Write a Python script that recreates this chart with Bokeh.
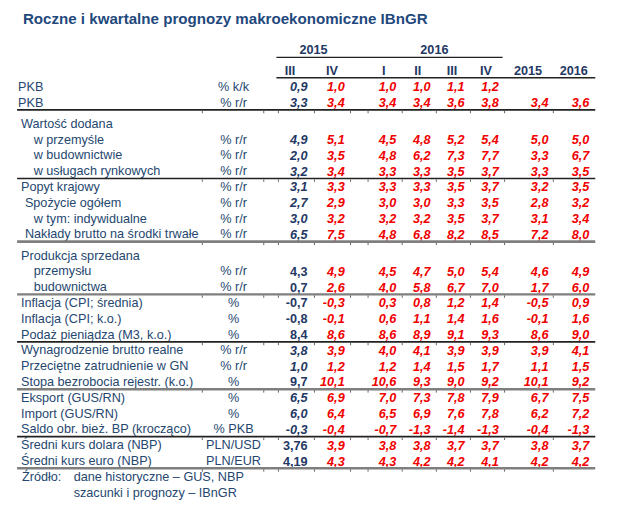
from bokeh.plotting import figure
from bokeh.models import Range1d, ColumnDataSource
from bokeh.core.properties import value
from bokeh.embed import file_html
from bokeh.resources import INLINE

# ---------------- data ----------------
title = "Roczne i kwartalne prognozy makroekonomiczne IBnGR"
year_headers = ["2015", "2016"]
col_headers = ["III", "IV", "I", "II", "III", "IV", "2015", "2016"]

labels = [
    "PKB", "PKB", "Wartość dodana", "w przemyśle", "w budownictwie",
    "w usługach rynkowych", "Popyt krajowy", "Spożycie ogółem",
    "w tym: indywidualne", "Nakłady brutto na środki trwałe",
    "Produkcja sprzedana", "przemysłu", "budownictwa",
    "Inflacja (CPI; średnia)", "Inflacja (CPI; k.o.)", "Podaż pieniądza (M3, k.o.)",
    "Wynagrodzenie brutto realne", "Przeciętne zatrudnienie w GN",
    "Stopa bezrobocia rejestr. (k.o.)", "Eksport (GUS/RN)", "Import (GUS/RN)",
    "Saldo obr. bież. BP (krocząco)", "Średni kurs dolara (NBP)", "Średni kurs euro (NBP)",
]
units = [
    "% k/k", "% r/r", "", "% r/r", "% r/r", "% r/r", "% r/r", "% r/r", "% r/r", "% r/r",
    "", "% r/r", "% r/r", "%", "%", "%", "% r/r", "% r/r", "%", "%", "%", "% PKB",
    "PLN/USD", "PLN/EUR",
]
N = None
q3_2015 = [0.9, 3.3, N, 4.9, 2.0, 3.2, 3.1, 2.7, 3.0, 6.5, N, 4.3, 0.7, -0.7, -0.8, 8.4, 3.8, 1.0, 9.7, 6.5, 6.0, -0.3, 3.76, 4.19]
q4_2015 = [1.0, 3.4, N, 5.1, 3.5, 3.4, 3.3, 2.9, 3.2, 7.5, N, 4.9, 2.6, -0.3, -0.1, 8.6, 3.9, 1.2, 10.1, 6.9, 6.4, -0.4, 3.9, 4.3]
q1_2016 = [1.0, 3.4, N, 4.5, 4.8, 3.3, 3.3, 3.0, 3.2, 4.8, N, 4.5, 4.0, 0.3, 0.6, 8.6, 4.0, 1.2, 10.6, 7.0, 6.5, -0.7, 3.8, 4.3]
q2_2016 = [1.0, 3.4, N, 4.8, 6.2, 3.3, 3.3, 3.0, 3.2, 6.8, N, 4.7, 5.8, 0.8, 1.1, 8.9, 4.1, 1.4, 9.3, 7.3, 6.9, -1.3, 3.8, 4.2]
q3_2016 = [1.1, 3.6, N, 5.2, 7.3, 3.5, 3.5, 3.3, 3.5, 8.2, N, 5.0, 6.7, 1.2, 1.4, 9.1, 3.9, 1.5, 9.0, 7.8, 7.6, -1.4, 3.7, 4.2]
q4_2016 = [1.2, 3.8, N, 5.4, 7.7, 3.7, 3.7, 3.5, 3.7, 8.5, N, 5.4, 7.0, 1.4, 1.6, 9.3, 3.9, 1.7, 9.2, 7.9, 7.8, -1.3, 3.7, 4.1]
year_2015 = [N, 3.4, N, 5.0, 3.3, 3.3, 3.2, 2.8, 3.1, 7.2, N, 4.6, 1.7, -0.5, -0.1, 8.6, 3.9, 1.1, 10.1, 6.7, 6.2, -0.4, 3.8, 4.2]
year_2016 = [N, 3.6, N, 5.0, 6.7, 3.5, 3.5, 3.2, 3.4, 8.0, N, 4.9, 6.0, 0.9, 1.6, 9.0, 4.1, 1.5, 9.2, 7.5, 7.2, -1.3, 3.7, 4.2]
columns = [q3_2015, q4_2015, q1_2016, q2_2016, q3_2016, q4_2016, year_2015, year_2016]

source_lines = [("Źródło:", "dane historyczne – GUS, NBP"), ("", "szacunki i prognozy – IBnGR")]

# ---------------- layout / style ----------------
indent = [-1, -1, 0, 2, 2, 2, 0, 1, 2, 1, 0, 2, 2, 0, 0, 0, 0, 0, 0, 0, 0, 0, 0, 0]
indent_x = {-1: 18, 0: 21, 1: 25, 2: 34}
q3_italic = [1, 1, 0, 1, 1, 1, 1, 1, 1, 1, 0, 0, 0, 0, 0, 0, 1, 1, 0, 1, 1, 1, 0, 0]
col_right = [315, 353, 406, 441, 476, 511, 562, 604]
col_center = [297, 340, 393, 428, 463, 498, 541, 588]
year_center = [321, 445]
unit_x = 239
y0, pitch, gap = 89, 16.3, 5.5
gap_after = [1, 9]
sep_after = [(1, "#222222", 1.6), (5, "#222222", 1.6), (9, "#7f7f7f", 2.6), (12, "#7f7f7f", 2.2),
             (15, "#222222", 1.6), (18, "#7f7f7f", 2.6), (21, "#222222", 1.6), (23, "#7f7f7f", 2.6)]
tick_x = [207, 270, 285, 322, 359, 377, 412, 447, 482, 517, 567]

W, H = 624, 512          # figure size (fits the 640x528 window with its 8px margin)
REF_W, REF_H = 640, 528  # coordinate space of the reference picture
S = W / REF_W            # font scaling so the whole picture fits

NAVY = "#25476F"
DARK = "#1F3864"
RED = "#F00000"
FONT = value("Liberation Sans")


def row_y(i):
    return y0 + i * pitch + gap * sum(1 for g in gap_after if i > g)


def fmt(v):
    s = f"{v:.2f}" if abs(round(v, 2) - round(v, 1)) > 1e-9 else f"{v:.1f}"
    return s.replace(".", ",")


p = figure(width=W, height=H, output_backend="svg", toolbar_location=None,
           x_range=Range1d(0, REF_W), y_range=Range1d(REF_H, 0), min_border=0)
p.axis.visible = False
p.grid.visible = False
p.outline_line_color = None
p.background_fill_color = "white"
p.border_fill_color = "white"


def txt(xs, ys, texts, color, size=13, style="normal", align="left"):
    if not texts:
        return
    src = ColumnDataSource(dict(x=xs, y=ys, t=texts))
    p.text("x", "y", "t", source=src, text_font=FONT, text_font_size=value(f"{size * S:.2f}px"),
           text_font_style=value(style), text_color=color, text_align=align,
           text_baseline="middle")


# title
txt([23], [19], [title], "#1F497D", size=15.5, style="bold")

# header rows
hy = row_y(-1)
txt(year_center, [hy - 22] * 2, year_headers, DARK, style="bold", align="center")
txt(col_center, [hy] * len(col_headers), col_headers, DARK, style="bold", align="center")
p.segment(x0=[283], y0=[hy - 14], x1=[515], y1=[hy - 14], line_color="#222222", line_width=1.2)
p.segment(x0=[283], y0=[hy + 7], x1=[610], y1=[hy + 7], line_color="#222222", line_width=1.6)

# labels & units
ys = [row_y(i) for i in range(len(labels))]
txt([indent_x[k] for k in indent], ys, labels, NAVY)
ui = [i for i, u in enumerate(units) if u]
txt([unit_x] * len(ui), [ys[i] for i in ui], [units[i] for i in ui], NAVY, align="center")

# values
for c, col in enumerate(columns):
    for italic_flag in (1, 0):
        xs, yy, tt = [], [], []
        for i, v in enumerate(col):
            if v is None:
                continue
            it = q3_italic[i] if c == 0 else 1
            if it != italic_flag:
                continue
            xs.append(col_right[c]); yy.append(ys[i]); tt.append(fmt(v))
        style = "bold italic" if italic_flag else "bold"
        txt(xs, yy, tt, DARK if c == 0 else RED, style=style, align="right")

# separators
for r, colr, lw in sep_after:
    ly = ys[r] + 7.5
    p.segment(x0=[17], y0=[ly], x1=[610], y1=[ly], line_color=colr, line_width=lw)
    p.segment(x0=tick_x, y0=[ly + 1] * len(tick_x), x1=tick_x, y1=[ly + 3.5] * len(tick_x),
              line_color="#666666", line_width=1)

# source note
fy = [row_y(len(labels)), row_y(len(labels) + 1)]
txt([22], [fy[0]], [source_lines[0][0]], NAVY)
txt([75, 75], fy, [s[1] for s in source_lines], NAVY)

open("out.html", "w").write(file_html(p, INLINE))
